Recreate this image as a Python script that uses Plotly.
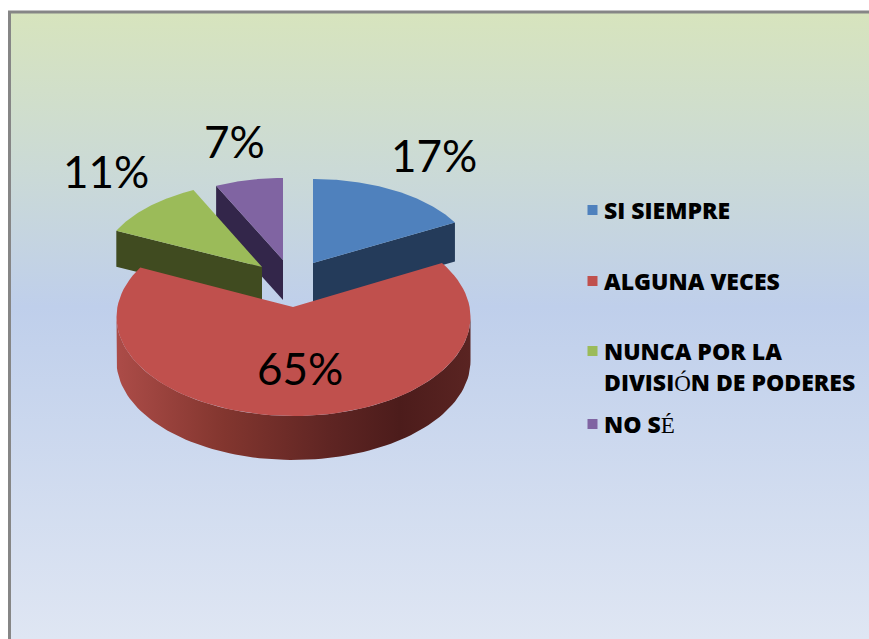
import numpy as np
import plotly.graph_objects as go

categories = ["SI SIEMPRE", "ALGUNA VECES", "NUNCA POR LA<br>DIVISIÓN DE PODERES", "NO SÉ"]
values = [17, 65, 11, 7]
top_colors = ["#4F81BD", "#C0504D", "#9BBB59", "#8064A2"]
side_colors = ["#243B5A", "#5A2422", "#404B20", "#33264A"]

# Projection of each exploded slice onto the page: tip, arc centre, radii, depth,
# and the small angular widening that the perspective gives the front slice
geometry = [
    dict(tip=(313, 263), c=(313, 263), rx=162, ry=84, d=39, w0=0, w1=0),
    dict(tip=(293, 307), c=(293.5, 317), rx=177, ry=99, d=44, w0=-0.073, w1=0.084),
    dict(tip=(262, 267), c=(262, 267), rx=161, ry=85, d=36, w0=0, w1=0),
    dict(tip=(283, 260), c=(283, 260), rx=157, ry=82, d=40, w0=0, w1=0),
]
label_pos = [(434, 155), (300, 368), (106, 171), (234, 141)]
legend_y = [210, 281, 351, 424]

edges = np.cumsum([0] + values) / sum(values) * 2 * np.pi


def arc(g, a0, a1, n=90):
    t = np.linspace(a0, a1, n)
    return g["c"][0] + g["rx"] * np.sin(t), g["c"][1] - g["ry"] * np.cos(t)


fig = go.Figure()

# panel background
fig.add_trace(go.Scatter(
    x=[10, 869, 869, 10, 10], y=[12, 12, 639, 639, 12], mode="lines",
    line=dict(width=0), fill="toself",
    fillgradient=dict(type="vertical", colorscale=[
        [0, "#DFE6F3"], [0.53, "#BFCFEB"], [0.75, "#CBDAD6"], [1, "#D7E4BD"]]),
    hoverinfo="skip"))
fig.add_trace(go.Scatter(
    x=[9.5, 9.5, 869], y=[639, 12, 12], mode="lines",
    line=dict(color="#868686", width=3), hoverinfo="skip"))

for i in [3, 2, 0, 1]:
    g = geometry[i]
    a0, a1 = edges[i] + g["w0"], edges[i + 1] + g["w1"]
    ax, ay = arc(g, a0, a1)
    tx, ty = g["tip"]
    d = g["d"]
    if i == 1:
        # outer rim, front half of the ellipse
        sx, sy = arc(g, np.pi / 2, 3 * np.pi / 2)
        fig.add_trace(go.Scatter(
            x=np.r_[sx, sx[::-1]], y=np.r_[sy, sy[::-1] + d], mode="lines",
            line=dict(width=0), fill="toself",
            fillgradient=dict(type="horizontal", colorscale=[
                [0, "#AC4C48"], [0.3, "#83362F"], [0.6, "#5F2523"], [0.8, "#4C1C1B"], [1, "#5A2422"]]),
            hoverinfo="skip"))
    else:
        # cut faces
        if i == 0:
            fx, fy = [tx, ax[-1]], [ty, ay[-1]]
        else:
            fx, fy = [tx, ax[0]], [ty, ay[0]]
        fig.add_trace(go.Scatter(
            x=list(fx) + list(fx)[::-1], y=list(fy) + [v + d for v in fy][::-1],
            mode="lines", line=dict(width=0), fill="toself",
            fillcolor=side_colors[i], hoverinfo="skip"))
    fig.add_trace(go.Scatter(
        x=np.r_[tx, ax, tx], y=np.r_[ty, ay, ty], mode="lines",
        line=dict(width=0), fill="toself", fillcolor=top_colors[i], hoverinfo="skip"))

# legend keys
fig.add_trace(go.Scatter(
    x=[592.5] * 4, y=legend_y, mode="markers",
    marker=dict(symbol="square", size=10, color=top_colors), hoverinfo="skip"))


def accent(s):
    for ch in "ÓÉ":
        s = s.replace(ch, f'<span style="font-family:Liberation Serif;font-weight:normal">{ch}</span>')
    return s


for name, y in zip(categories, legend_y):
    for j, line in enumerate(name.split("<br>")):
        fig.add_annotation(x=602, y=y + j * 31, text=accent(line), showarrow=False,
                           xanchor="left", yanchor="middle",
                           font=dict(family="Open Sans", size=23, weight=800, color="#000000"))

for v, (x, y) in zip(values, label_pos):
    fig.add_annotation(x=x, y=y, text=f"{v}%", showarrow=False, xanchor="center", yanchor="middle",
                       font=dict(family="Lato", size=44, color="#000000"))

fig.update_layout(
    width=869, height=639, margin=dict(l=0, r=0, t=0, b=0), showlegend=False,
    paper_bgcolor="#FFFFFF", plot_bgcolor="rgba(0,0,0,0)",
    xaxis=dict(range=[0, 869], visible=False, fixedrange=True),
    yaxis=dict(range=[639, 0], visible=False, fixedrange=True))

fig.write_html("out.html", config=dict(displayModeBar=False),
               post_script="document.body.style.margin='0';")
